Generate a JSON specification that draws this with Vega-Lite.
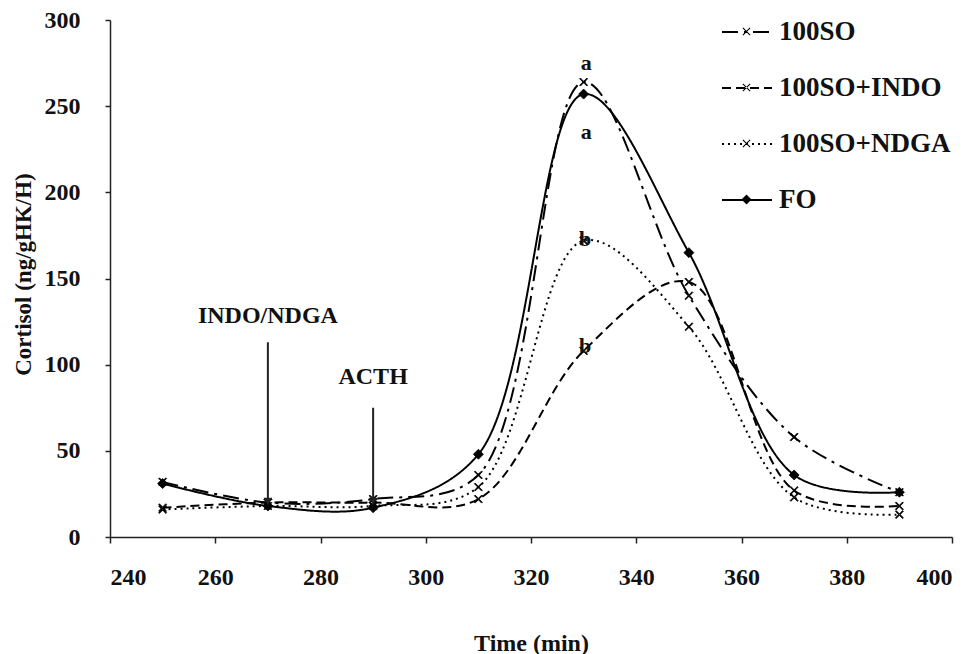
{
  "$schema": "https://vega.github.io/schema/vega-lite/v6.json",
  "width": 842,
  "height": 517,
  "autosize": "none",
  "padding": {"left": 110, "top": 20, "right": 21, "bottom": 117},
  "background": "white",
  "config": {
    "view": {"stroke": null},
    "font": "Liberation Serif",
    "axis": {"grid": false, "domainColor": "#222", "tickColor": "#222", "domainWidth": 1.5, "tickWidth": 1.5, "labelFont": "Liberation Serif", "labelFontWeight": "bold", "labelFontSize": 24, "labelColor": "#111", "titleFont": "Liberation Serif", "titleFontWeight": "bold", "titleColor": "#111"}
  },
  "datasets": {
    "series": [
      {"time": 250, "cortisol": 32, "series": "100SO"},
      {"time": 270, "cortisol": 20, "series": "100SO"},
      {"time": 290, "cortisol": 22, "series": "100SO"},
      {"time": 310, "cortisol": 36, "series": "100SO"},
      {"time": 330, "cortisol": 264, "series": "100SO"},
      {"time": 350, "cortisol": 140, "series": "100SO"},
      {"time": 370, "cortisol": 58, "series": "100SO"},
      {"time": 390, "cortisol": 26, "series": "100SO"},
      {"time": 250, "cortisol": 17, "series": "100SO+INDO"},
      {"time": 270, "cortisol": 20, "series": "100SO+INDO"},
      {"time": 290, "cortisol": 20, "series": "100SO+INDO"},
      {"time": 310, "cortisol": 22, "series": "100SO+INDO"},
      {"time": 330, "cortisol": 108, "series": "100SO+INDO"},
      {"time": 350, "cortisol": 148, "series": "100SO+INDO"},
      {"time": 370, "cortisol": 27, "series": "100SO+INDO"},
      {"time": 390, "cortisol": 18, "series": "100SO+INDO"},
      {"time": 250, "cortisol": 16, "series": "100SO+NDGA"},
      {"time": 270, "cortisol": 18, "series": "100SO+NDGA"},
      {"time": 290, "cortisol": 18, "series": "100SO+NDGA"},
      {"time": 310, "cortisol": 29, "series": "100SO+NDGA"},
      {"time": 330, "cortisol": 172, "series": "100SO+NDGA"},
      {"time": 350, "cortisol": 122, "series": "100SO+NDGA"},
      {"time": 370, "cortisol": 23, "series": "100SO+NDGA"},
      {"time": 390, "cortisol": 13, "series": "100SO+NDGA"},
      {"time": 250, "cortisol": 31, "series": "FO"},
      {"time": 270, "cortisol": 18, "series": "FO"},
      {"time": 290, "cortisol": 17, "series": "FO"},
      {"time": 310, "cortisol": 48, "series": "FO"},
      {"time": 330, "cortisol": 257, "series": "FO"},
      {"time": 350, "cortisol": 165, "series": "FO"},
      {"time": 370, "cortisol": 36, "series": "FO"},
      {"time": 390, "cortisol": 26, "series": "FO"}
    ],
    "arrows": [
      {"time": 270, "top": 113, "bottom": 19, "label": "INDO/NDGA", "labelY": 128},
      {"time": 290, "top": 75, "bottom": 19, "label": "ACTH", "labelY": 93}
    ],
    "letters": [
      {"time": 330.5, "cortisol": 275, "letter": "a"},
      {"time": 330.5, "cortisol": 235, "letter": "a"},
      {"time": 330.3, "cortisol": 173, "letter": "b"},
      {"time": 330.3, "cortisol": 111, "letter": "b"}
    ]
  },
  "layer": [
    {
      "data": {"name": "series"},
      "mark": {"type": "line", "interpolate": "catmull-rom", "color": "black", "strokeWidth": 2},
      "encoding": {
        "x": {"field": "time", "type": "quantitative", "scale": {"domain": [240, 400], "nice": false}, "axis": {"values": [240, 260, 280, 300, 320, 340, 360, 380, 400], "tickSize": 6, "labelPadding": 22, "title": "Time (min)", "titleFontSize": 24, "titleY": 106, "titleBaseline": "middle"}},
        "y": {"field": "cortisol", "type": "quantitative", "scale": {"domain": [0, 300], "nice": false}, "axis": {"values": [0, 50, 100, 150, 200, 250, 300], "tickSize": 5, "labelPadding": 25, "title": "Cortisol (ng/gHK/H)", "titleFontSize": 23, "titleX": -87, "titleY": 254, "titleAngle": -90, "titleBaseline": "middle"}},
        "strokeDash": {
          "field": "series", "type": "nominal",
          "scale": {"domain": ["100SO", "100SO+INDO", "100SO+NDGA", "FO"], "range": [[16, 6, 3, 6], [9, 5], [2, 4], [1, 0]]},
          "legend": {"title": null, "orient": "none", "legendX": 611, "legendY": -14, "symbolType": "M-1,0L1,0", "symbolSize": 2500, "symbolStrokeColor": "black", "symbolStrokeWidth": 2, "labelFont": "Liberation Serif", "labelFontWeight": "bold", "labelFontSize": 27, "labelColor": "#111", "labelOffset": 6, "labelLimit": 400, "rowPadding": 17, "padding": 0}
        }
      }
    },
    {
      "data": {"name": "series"},
      "mark": {"type": "point", "filled": true, "fill": "black", "stroke": "black", "strokeWidth": 0.8, "size": 2500, "opacity": 1},
      "encoding": {
        "x": {"field": "time", "type": "quantitative"},
        "y": {"field": "cortisol", "type": "quantitative"},
        "shape": {
          "field": "series", "type": "nominal",
          "scale": {"range": ["M-0.16,-0.13L-0.13,-0.16L0.16,0.13L0.13,0.16ZM-0.16,0.13L-0.13,0.16L0.16,-0.13L0.13,-0.16Z", "M-0.16,-0.13L-0.13,-0.16L0.16,0.13L0.13,0.16ZM-0.16,0.13L-0.13,0.16L0.16,-0.13L0.13,-0.16Z", "M-0.16,-0.13L-0.13,-0.16L0.16,0.13L0.13,0.16ZM-0.16,0.13L-0.13,0.16L0.16,-0.13L0.13,-0.16Z", "M0,-0.2L0.2,0L0,0.2L-0.2,0Z"]},
          "legend": {"title": null, "orient": "none", "legendX": 611, "legendY": -14, "symbolSize": 2500, "symbolFillColor": "black", "symbolStrokeColor": "black", "symbolStrokeWidth": 0.8, "labelExpr": "' '", "labelFont": "Liberation Serif", "labelFontWeight": "bold", "labelFontSize": 27, "labelOffset": 6, "rowPadding": 17, "padding": 0,
            "encode": {"symbols": {"update": {"stroke": {"value": "black"}, "fill": {"value": "black"}, "opacity": {"value": 1}}}}}
        }
      }
    },
    {
      "data": {"name": "arrows"},
      "mark": {"type": "rule", "color": "#222", "strokeWidth": 2},
      "encoding": {
        "x": {"field": "time", "type": "quantitative"},
        "y": {"field": "top", "type": "quantitative"},
        "y2": {"field": "bottom"}
      }
    },
    {
      "data": {"name": "arrows"},
      "mark": {"type": "point", "shape": "triangle-down", "filled": true, "color": "#222", "size": 70, "opacity": 1, "yOffset": -3},
      "encoding": {
        "x": {"field": "time", "type": "quantitative"},
        "y": {"field": "bottom", "type": "quantitative"}
      }
    },
    {
      "data": {"name": "arrows"},
      "mark": {"type": "text", "font": "Liberation Serif", "fontWeight": "bold", "fontSize": 24, "color": "#111", "baseline": "middle", "align": "center"},
      "encoding": {
        "x": {"field": "time", "type": "quantitative"},
        "y": {"field": "labelY", "type": "quantitative"},
        "text": {"field": "label"}
      }
    },
    {
      "data": {"name": "letters"},
      "mark": {"type": "text", "font": "Liberation Serif", "fontWeight": "bold", "fontSize": 22, "color": "#111", "baseline": "middle", "align": "center"},
      "encoding": {
        "x": {"field": "time", "type": "quantitative"},
        "y": {"field": "cortisol", "type": "quantitative"},
        "text": {"field": "letter"}
      }
    }
  ],
  "resolve": {"legend": {"strokeDash": "independent", "shape": "independent"}}
}
